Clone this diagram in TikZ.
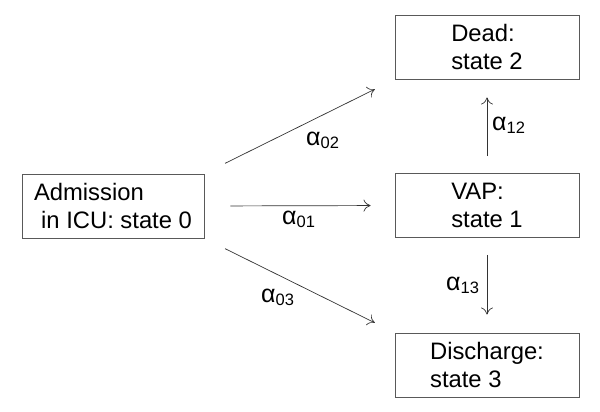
\documentclass[tikz,border=0pt]{standalone}
\usepackage{fontspec}
\setmainfont{Liberation Sans}
\usetikzlibrary{arrows.meta}
\tikzset{
  statebox/.style={draw=black!65, line width=0.9pt, rectangle, inner sep=0pt,
    minimum height=64pt, align=left, font=\fontsize{23.8}{28}\selectfont},
  trans/.style={draw=black!80, line width=0.7pt, -{To[length=7pt,width=12pt]}},
  rate/.style={inner sep=0pt, anchor=west}
}
\newcommand{\rlab}[1]{{\fontsize{25}{25}\selectfont α}\raisebox{-3pt}{\fontsize{16.5}{16.5}\selectfont #1}}
\begin{document}
\begin{tikzpicture}[x=1pt,y=-1pt]
\useasboundingbox (0,0) rectangle (600,412);
\node[statebox, minimum width=182pt] (s0) at (113,206) {Admission\\\hspace*{0.3em}in ICU: state 0};
\node[statebox, minimum width=184pt] (s2) at (487,47) {Dead:\\state 2};
\node[statebox, minimum width=184pt] (s1) at (487,205.5) {VAP:\\state 1};
\node[statebox, minimum width=184pt] (s3) at (487,365) {Discharge:\\state 3};
\draw[trans, shorten <=23pt, shorten >=22pt] (s0.north east) -- (s2.south west);
\draw[trans, shorten <=26pt, shorten >=24pt] (s0.east) -- (s1.west);
\draw[trans, shorten <=23pt, shorten >=22pt] (s0.south east) -- (s3.north west);
\draw[trans, shorten <=17pt, shorten >=18pt] (s1.north) -- (s2.south);
\draw[trans, shorten <=17pt, shorten >=18pt] (s1.south) -- (s3.north);
\node[rate] (l02) at (306,140) {\rlab{02}};
\node[rate] (l01) at (282,219) {\rlab{01}};
\node[rate] (l03) at (261,297) {\rlab{03}};
\node[rate] (l12) at (492,125) {\rlab{12}};
\node[rate] (l13) at (446,285) {\rlab{13}};
\end{tikzpicture}
\end{document}
